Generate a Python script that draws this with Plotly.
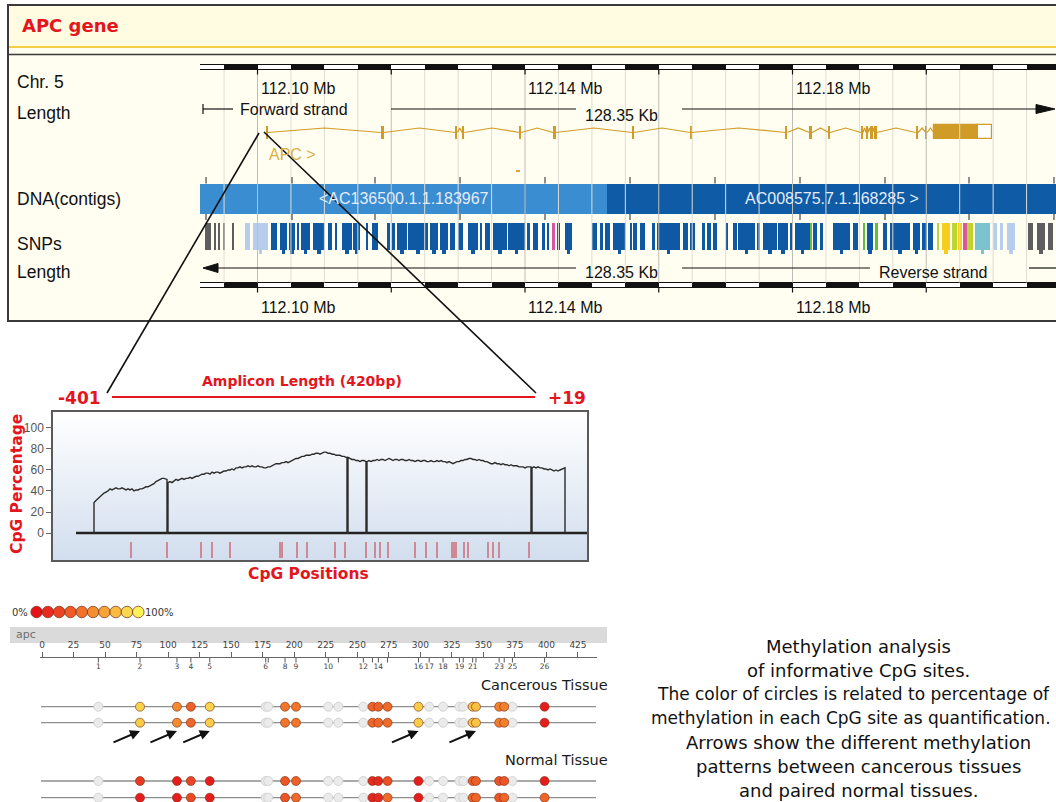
import plotly.graph_objects as go

W, H = 1056, 802


def px(x):
    return x / W


def py(y):
    return 1 - y / H


ARIAL = "Liberation Sans, Arial, sans-serif"
VERDANA = "DejaVu Sans, Verdana, sans-serif"
RED = "#E3161D"
GOLD = "#D09C27"

# ---------------- genome view of chr5 around APC (positions in kb from 112.10 Mb) ----------------
ORIGIN_MB = 112.10
view_mb = [112.0914, 112.2194]
mb_tick_values = [112.10, 112.12, 112.14, 112.16, 112.18, 112.20]
mb_label_values = [112.10, 112.14, 112.18]
view_length_label = "128.35 Kb"

exon_start_kb = [1.35, 18.45, 29.6, 30.6, 39.2, 44.2, 56.0, 64.7, 79.0, 82.5, 85.4,
                 90.25, 91.0, 91.7, 92.3, 98.4, 99.95]
exon_len_kb = [0.18, 0.40, 0.30, 0.30, 0.22, 0.40, 0.30, 0.20, 0.22, 0.45, 0.22,
               0.28, 0.28, 0.28, 0.28, 0.40, 0.20]
last_exon_coding_kb = [101.11, 107.75]
last_exon_utr_kb = [107.75, 109.80]
minor_feature_kb = [38.65, 39.25]

contig_names = ["<AC136500.1.1.183967", "AC008575.7.1.168285 >"]
contig_start_kb = [-9.0, 52.29]
contig_end_kb = [52.29, 125.0]
contig_tick_kb = [-7.7, 5.16, 17.57, 30.28, 42.99, 55.70, 68.41, 81.12, 93.83, 106.39, 119.1]

snp_start_kb = [
    -7.85, -6.36, -5.76, -5.16, -3.81,
    -1.87, -0.67,
    2.02, 3.36, 4.71, 5.91, 6.50, 8.30, 10.54, 11.59, 12.64, 14.28, 16.37, 17.12, 19.36,
    20.11, 20.86, 22.50, 25.79, 27.29, 28.78, 29.98, 31.48, 33.27, 34.02, 35.21, 37.46,
    40.30, 41.20, 42.54, 43.29,
    44.04,
    44.78, 45.98, 50.02, 51.21, 51.96, 53.16, 55.70, 56.15, 57.20, 58.99, 59.74, 63.63,
    64.67, 66.47, 67.21, 68.11, 70.20, 71.10, 71.85, 74.69, 75.58, 77.83, 79.62, 80.37,
    82.61,
    83.06, 84.11, 86.05, 89.04,
    90.54,
    91.14,
    92.34,
    93.53, 94.58, 98.02, 99.36, 100.26,
    101.61, 102.35, 103.85, 104.75, 105.49, 106.09, 107.28,
    109.98, 111.03, 112.07,
    115.21, 116.56, 118.20,
]
snp_end_kb = [
    -6.95, -6.21, -5.61, -5.01, -3.66,
    -1.12, 1.57,
    2.92, 4.41, 5.61, 6.21, 7.85, 10.09, 11.14, 11.89, 14.13, 15.33, 16.52, 18.02, 19.81,
    20.56, 22.35, 25.49, 26.99, 28.49, 29.53, 30.73, 32.97, 33.57, 34.77, 37.31, 40.00,
    40.75, 41.94, 42.99, 43.44,
    44.49,
    45.23, 47.03, 50.77, 51.66, 52.71, 55.10, 56.00, 56.75, 57.94, 59.44, 63.18, 64.37,
    65.42, 66.91, 67.81, 68.71, 70.35, 71.70, 74.39, 75.13, 77.68, 79.32, 80.07, 82.61,
    82.91,
    83.66, 84.56, 88.59, 89.79,
    90.84,
    92.04,
    92.78,
    94.13, 97.57, 99.06, 100.11, 101.01,
    101.76, 103.55, 104.60, 105.34, 106.09, 106.99, 109.53,
    110.58, 111.47, 113.27,
    115.96, 117.76, 118.95,
]
snp_kind = (["gray"] * 5 + ["lightblue"] * 2 + ["blue"] * 29 + ["pink"] + ["blue"] * 24
            + ["green"] + ["blue"] * 4 + ["green"] + ["blue"] + ["green"] + ["blue"] * 5
            + ["lime", "yellow", "lime", "yellow", "pink", "lime", "cyan"]
            + ["lightblue"] * 3 + ["gray"] * 3)
snp_palette = {
    "gray": "#5E5E5E", "lightblue": "#B6CEEC", "blue": "#0E58A4", "pink": "#D8569F",
    "green": "#62BE3E", "lime": "#BCD531", "yellow": "#F7CD1E", "cyan": "#7DC3CE",
}

# ---------------- amplicon CpG content (window position, % CpG) ----------------
curve_pos = [
    41, 41, 43, 45, 47, 49, 51, 53, 55, 57, 59, 61, 63, 65, 67, 69, 71, 73, 75, 77, 79, 81, 83,
    85, 87, 89, 91, 93, 95, 97, 99, 101, 103, 105, 107, 109, 111, 113, 114, 114,
    115, 115, 117, 119, 121, 123, 125, 127, 129, 131, 133, 135, 137, 139, 141, 143, 145, 147,
    149, 151, 153, 155, 157, 159, 161, 163, 165, 167, 169, 171, 173, 175, 177, 179, 181, 183,
    185, 187, 189, 191, 193, 195, 197, 199, 201, 203, 205, 207, 209, 211, 213, 215, 217, 219,
    221, 223, 225, 227, 229, 231, 233, 235, 237, 239, 241, 243, 245, 247, 249, 251, 253, 255,
    257, 259, 261, 263, 265, 267, 269, 271, 273, 275, 277, 279, 281, 283, 285, 287, 289, 291,
    293, 294, 294,
    295, 295, 297, 299, 301, 303, 305, 307, 309, 311, 313, 313,
    314, 314, 316, 318, 320, 322, 324, 326, 328, 330, 332, 334, 336, 338, 340, 342, 344, 346,
    348, 350, 352, 354, 356, 358, 360, 362, 364, 366, 368, 370, 372, 374, 376, 378, 380, 382,
    384, 386, 388, 390, 392, 394, 396, 398, 400, 402, 404, 406, 408, 410, 412, 414, 416, 418,
    420, 422, 424, 426, 428, 430, 432, 434, 436, 438, 440, 442, 444, 446, 448, 450, 452, 454,
    456, 458, 460, 462, 464, 466, 468, 470, 472, 474, 476, 478, 478,
    479, 479, 481, 483, 485, 487, 489, 491, 493, 495, 497, 499, 501, 503, 505, 507, 509, 511,
    512, 512,
]
curve_pct = [
    0, 29, 31, 33, 35, 36, 38, 39, 40, 42, 41, 42, 43, 42, 42, 43, 42, 41, 42, 41, 42, 40, 41,
    41, 42, 42, 43, 44, 44, 45, 46, 47, 49, 50, 51, 52, 52, 51, 51, 0,
    0, 48, 49, 48, 50, 51, 50, 51, 52, 51, 52, 52, 53, 52, 53, 54, 54, 55,
    56, 56, 57, 57, 56, 58, 57, 58, 58, 57, 58, 59, 59, 60, 60, 61, 60, 62,
    62, 63, 62, 63, 63, 64, 63, 64, 63, 63, 64, 63, 63, 62, 62, 63, 63, 64,
    65, 66, 66, 66, 67, 67, 68, 67, 68, 69, 70, 71, 71, 72, 73, 73, 74, 74,
    74, 75, 75, 76, 76, 75, 76, 77, 77, 76, 76, 75, 75, 74, 74, 74, 73, 73,
    72, 72, 0,
    0, 72, 71, 70, 70, 69, 69, 68, 69, 69, 68, 0,
    0, 68, 69, 68, 69, 69, 70, 69, 70, 70, 69, 70, 71, 70, 69, 70, 70, 69,
    70, 70, 69, 69, 70, 69, 69, 68, 69, 69, 68, 69, 69, 68, 68, 69, 68, 68,
    69, 68, 69, 68, 68, 67, 68, 67, 66, 67, 68, 68, 69, 69, 70, 70, 71, 71,
    70, 70, 69, 70, 69, 69, 68, 68, 67, 66, 66, 67, 66, 66, 65, 66, 65, 65,
    64, 65, 64, 64, 64, 63, 63, 63, 62, 63, 63, 63, 0,
    0, 62, 63, 62, 63, 62, 62, 61, 61, 60, 61, 60, 59, 60, 59, 60, 61, 62,
    62, 0,
]
cpg_position = [78, 114, 148, 159, 177, 227, 229, 244, 254, 282, 292, 313, 322, 327, 335,
                362, 373, 384, 399, 401, 403, 411, 415, 435, 440, 446, 476]
pct_ticks = [0, 20, 40, 60, 80, 100]

# ---------------- methylation of informative CpG sites (EpiTyper style) ----------------
site_pos = [44.7, 77.7, 107, 118, 133, 177.4, 179.4, 192.7, 201.4, 227, 235, 254.8, 262,
            266.7, 274, 298.5, 307, 318, 331, 334, 341.5, 344.1, 362.5, 366.5, 373, 398.5]
site_number_shown = [1, 2, 3, 4, 5, 6, 8, 9, 10, 12, 14, 16, 17, 18, 19, 21, 23, 25, 26]
ruler_ticks = list(range(0, 426, 25))
N = None
cancer_a = [N, 88, 55, 35, 88, N, N, 45, 45, N, N, N, 35, 35, 40, 85, N, N, N, N, 80, 80, 50, 50, N, 5]
cancer_b = [N, 85, 55, 38, 85, N, N, 45, 45, N, N, N, 38, 38, 40, 85, N, N, N, N, 80, 82, 48, 50, N, 5]
normal_a = [N, 18, 5, 22, 5, N, N, 30, 35, N, N, N, 10, 10, 28, 5, N, N, N, N, 35, 35, 30, 30, N, 5]
normal_b = [N, 5, 5, 25, 5, N, N, 30, 40, N, N, N, 8, 10, 40, 5, N, N, N, N, 38, 38, 30, 38, N, 38]
sample_rows = [cancer_a, cancer_b, normal_a, normal_b]
arrow_sites = [2, 3, 5, 16, 22]
legend_levels = [0, 11, 22, 33, 44, 56, 67, 78, 89, 100]
meth_scale = [[0, "#E3121B"], [0.25, "#EC4A24"], [0.5, "#F3802D"], [0.75, "#F8B43C"], [1, "#FDF25A"]]

caption_lines = [
    "Methylation analysis",
    "of informative CpG sites.",
    "The color of circles is related to percentage of",
    "methylation in each CpG site as quantification.",
    "Arrows show the different methylation",
    "patterns between cancerous tissues",
    "and paired normal tissues.",
]

# pixel rows of the genome tracks and the methylation rows
ROW = dict(ruler_top=(64.5, 70.0), ruler_bottom=(282.5, 288.0), grid=(70.0, 282.5),
           exon=(126.0, 139.0), box=(125.0, 139.0), intron=(132.5, 128.0),
           contig=(183.5, 214.0), contig_ticks=((177.0, 183.5), (214.0, 220.0)),
           snp=(223.0, 250.0), snp_foot=(249.0, 253.5), minor=(170.0, 171.6))
sample_row_y = [706.7, 722.7, 781.0, 797.7]


def mb(kb):
    return ORIGIN_MB + kb / 1000.0


fig = go.Figure()
G = dict(xaxis="x", yaxis="y", hoverinfo="skip", showlegend=False)

# grid lines of the genome view every 5 kb, darker every 20 kb
light_x, dark_x = [], []
for k in range(26):
    v = round(112.095 + 0.005 * k, 3)
    target = dark_x if abs((v - 112.10) / 0.02 - round((v - 112.10) / 0.02)) < 1e-6 else light_x
    target += [v, v, None]
for xs, col in ((light_x, "#DDDDD3"), (dark_x, "#BEBEB6")):
    ys = []
    for v in xs:
        ys.append(None if v is None else (ROW["grid"][0] if len(ys) % 3 == 0 else ROW["grid"][1]))
    fig.add_trace(go.Scatter(x=xs, y=ys, mode="lines", line=dict(color=col, width=1), **G))

# contigs
contig_cols = ["#3B8DD2", "#0F5BA6"]
for s, e, c in zip(contig_start_kb, contig_end_kb, contig_cols):
    fig.add_trace(go.Bar(x=[mb((s + e) / 2)], width=[(e - s) / 1000], base=[ROW["contig"][0]],
                         y=[ROW["contig"][1] - ROW["contig"][0]], marker=dict(color=c, line_width=0), **G))
tx, ty = [], []
for t in contig_tick_kb:
    for (a, b) in ROW["contig_ticks"]:
        tx += [mb(t), mb(t), None]
        ty += [a, b, None]
fig.add_trace(go.Scatter(x=tx, y=ty, mode="lines", line=dict(color="#222", width=1), **G))

# SNP glyphs
for kind, col in snp_palette.items():
    idx = [i for i, k in enumerate(snp_kind) if k == kind]
    if not idx:
        continue
    cx = [mb((snp_start_kb[i] + snp_end_kb[i]) / 2) for i in idx]
    wd = [(snp_end_kb[i] - snp_start_kb[i]) / 1000 for i in idx]
    fig.add_trace(go.Bar(x=cx, width=wd, base=[ROW["snp"][0]] * len(idx),
                         y=[ROW["snp"][1] - ROW["snp"][0]] * len(idx),
                         marker=dict(color=col, line_width=0), **G))
    feet = [i for i in idx if snp_end_kb[i] - snp_start_kb[i] >= 0.9]
    if feet:
        fig.add_trace(go.Bar(x=[mb((snp_start_kb[i] + snp_end_kb[i]) / 2) for i in feet],
                             width=[0.00055] * len(feet), base=[ROW["snp_foot"][0]] * len(feet),
                             y=[ROW["snp_foot"][1] - ROW["snp_foot"][0]] * len(feet),
                             marker=dict(color=col, line_width=0), **G))

# APC transcript: introns as hats, exons as boxes
ends = [s + l for s, l in zip(exon_start_kb, exon_len_kb)]
nexts = exon_start_kb[1:] + [last_exon_coding_kb[0]]
ix, iy = [], []
for a, b in zip(ends, nexts):
    ix += [mb(a), mb((a + b) / 2), mb(b), None]
    iy += [ROW["intron"][0], ROW["intron"][1], ROW["intron"][0], None]
fig.add_trace(go.Scatter(x=ix, y=iy, mode="lines", line=dict(color=GOLD, width=1.2), **G))
fig.add_trace(go.Bar(x=[mb(s + l / 2) for s, l in zip(exon_start_kb, exon_len_kb)],
                     width=[max(l, 0.2) / 1000 for l in exon_len_kb],
                     base=[ROW["exon"][0]] * len(exon_start_kb),
                     y=[ROW["exon"][1] - ROW["exon"][0]] * len(exon_start_kb),
                     marker=dict(color=GOLD, line_width=0), **G))
for (s, e), fill in ((last_exon_coding_kb, GOLD), (last_exon_utr_kb, "#FFFFFF")):
    fig.add_trace(go.Bar(x=[mb((s + e) / 2)], width=[(e - s) / 1000], base=[ROW["box"][0]],
                         y=[ROW["box"][1] - ROW["box"][0]],
                         marker=dict(color=fill, line=dict(color=GOLD, width=1.2)), **G))
fig.add_trace(go.Bar(x=[mb(sum(minor_feature_kb) / 2)], width=[(minor_feature_kb[1] - minor_feature_kb[0]) / 1000],
                     base=[ROW["minor"][0]], y=[ROW["minor"][1] - ROW["minor"][0]],
                     marker=dict(color="#E0A040", line_width=0), **G))

# scale bars (alternating 5 kb blocks) with 20 kb ticks
black_centres = [112.0975 + 0.01 * k for k in range(13)]
for (top, bot) in (ROW["ruler_top"], ROW["ruler_bottom"]):
    fig.add_trace(go.Bar(x=[sum(view_mb) / 2], width=[view_mb[1] - view_mb[0] + 0.002], base=[top],
                         y=[bot - top], marker=dict(color="#FFFFFF", line=dict(color="#111", width=1)), **G))
    fig.add_trace(go.Bar(x=black_centres, width=[0.005] * len(black_centres), base=[top] * len(black_centres),
                         y=[bot - top] * len(black_centres), marker=dict(color="#111", line_width=0), **G))
    kx, ky = [], []
    for v in mb_tick_values + [112.22]:
        kx += [v, v, None]
        ky += [bot, bot + 4.5, None]
    fig.add_trace(go.Scatter(x=kx, y=ky, mode="lines", line=dict(color="#111", width=1.2), **G))

# ---------------- CpG content chart ----------------
C = dict(xaxis="x2", yaxis="y2", hoverinfo="skip", showlegend=False)
fig.add_trace(go.Scatter(x=[0, 534, 534, 0, 0], y=[-25.7, -25.7, 115.2, 115.2, -25.7], mode="none",
                         fill="toself",
                         fillgradient=dict(type="vertical", colorscale=[[0, "#D2DEEE"], [1, "#FFFFFF"]]), **C))
fig.add_trace(go.Scatter(x=[23, 534], y=[0, 0], mode="lines", line=dict(color="#222", width=2.6), **C))
fig.add_trace(go.Scatter(x=curve_pos, y=curve_pct, mode="lines", line=dict(color="#2B2B2B", width=1.4), **C))
rx, ry = [], []
for p in cpg_position:
    rx += [p, p, None]
    ry += [-8.6, -23.8, None]
fig.add_trace(go.Scatter(x=rx, y=ry, mode="lines", line=dict(color="#C8323A", width=1), **C))

# ---------------- methylation panel ----------------
M = dict(xaxis="x3", yaxis="y", hoverinfo="skip", showlegend=False)
sx, sy = [], []
for p in site_pos:
    sx += [p, p, None]
    sy += [657.5, 662.5, None]
fig.add_trace(go.Scatter(x=sx, y=sy, mode="lines", line=dict(color="#555", width=1), **M))
fig.add_trace(go.Scatter(x=[site_pos[n - 1] for n in site_number_shown], y=[667.5] * len(site_number_shown),
                         mode="text", text=[str(n) for n in site_number_shown],
                         textfont=dict(size=7.5, color="#444", family=VERDANA), **M))
for row, yrow in zip(sample_rows, sample_row_y):
    gx = [p for p, v in zip(site_pos, row) if v is None]
    cx = [p for p, v in zip(site_pos, row) if v is not None]
    cv = [v for v in row if v is not None]
    fig.add_trace(go.Scatter(x=gx, y=[yrow] * len(gx), mode="markers",
                             marker=dict(size=9, color="#EBEBEB", line=dict(color="#D4D4D4", width=1)), **M))
    fig.add_trace(go.Scatter(x=cx, y=[yrow] * len(cx), mode="markers",
                             marker=dict(size=9, color=cv, colorscale=meth_scale, cmin=0, cmax=100,
                                         line=dict(color="rgba(120,45,20,0.75)", width=0.8)), **M))
fig.add_trace(go.Scatter(x=[36.6 + 11.3 * i for i in range(len(legend_levels))], y=[612] * len(legend_levels),
                         mode="markers", xaxis="x4", yaxis="y", hoverinfo="skip", showlegend=False,
                         marker=dict(size=11.5, color=legend_levels, colorscale=meth_scale, cmin=0, cmax=100,
                                     line=dict(color="rgba(120,45,20,0.8)", width=0.9))))

# ---------------- decorations ----------------
shapes = []


def rect(x0, y0, x1, y1, fill, line=None, lw=0, layer="below"):
    shapes.append(dict(type="rect", xref="paper", yref="paper", x0=px(x0), x1=px(x1), y0=py(y1), y1=py(y0),
                       fillcolor=fill, line=dict(color=line or fill, width=lw), layer=layer))


def seg(x0, y0, x1, y1, color, width, layer="above"):
    shapes.append(dict(type="line", xref="paper", yref="paper", x0=px(x0), x1=px(x1),
                       y0=py(y0), y1=py(y1), line=dict(color=color, width=width), layer=layer))


def tri(points, color):
    path = "M " + " L ".join(f"{px(a)},{py(b)}" for a, b in points) + " Z"
    shapes.append(dict(type="path", xref="paper", yref="paper", path=path, fillcolor=color,
                       line=dict(color=color, width=1), layer="above"))


rect(8, 5, 1080, 321, "#FFFEF1", "#3A3A3A", 2)
rect(9, 6, 1080, 47, "#FFFCE2")
seg(9, 47, 1080, 47, "#F2CE45", 2.2, layer="below")
seg(9, 54.5, 1080, 54.5, "#3A3A3A", 1.6, layer="below")

# strand / length lines
seg(203, 104, 203, 114, "#111", 1.2)
seg(203, 109, 233, 109, "#111", 1.2)
seg(391, 109, 576, 109, "#111", 1.2)
seg(682, 109, 1038, 109, "#111", 1.2)
tri([(1036, 104.5), (1055, 109), (1036, 113.5)], "#111")
tri([(203, 268), (218, 263.5), (218, 272.5)], "#111")
seg(216, 268, 576, 268, "#111", 1.2)
seg(682, 268, 870, 268, "#111", 1.2)
seg(1029, 268, 1060, 268, "#111", 1.2)

# zoom from the APC promoter to the amplicon
seg(259, 133, 107, 393, "#111", 1.6)
seg(264, 132, 536, 393, "#111", 1.6)
seg(112, 397, 535, 397, RED, 2.2)

# methylation panel band and sample lines
rect(10, 627, 607, 643, "#DADADA")
for yrow in sample_row_y:
    shapes.append(dict(type="line", xref="x3", yref="paper", x0=-0.8, x1=439.3, y0=py(yrow), y1=py(yrow),
                       line=dict(color="#8E8E8E", width=1.3), layer="below"))

annotations = []


def label(text, x, y, size, color="#111111", family=ARIAL, anchor="left", bold=False, xref="paper",
          angle=0, xshift=0):
    annotations.append(dict(text=f"<b>{text}</b>" if bold else text,
                            x=px(x) if xref == "paper" else x, xref=xref, y=py(y), yref="paper",
                            xanchor=anchor, yanchor="middle", showarrow=False, textangle=angle,
                            xshift=xshift, font=dict(size=size, color=color, family=family)))


label("APC gene", 20, 26, 18, RED, VERDANA, bold=True)
label("Chr. 5", 15, 82, 17.5)
label("Length", 15, 113, 17.5)
label("DNA(contigs)", 15, 199, 17.5)
label("SNPs", 15, 244, 17.5)
label("Length", 15, 272, 17.5)
for v in mb_label_values:
    label(f"{v:.2f} Mb", v, 88, 16, xref="x", xshift=1)
    label(f"{v:.2f} Mb", v, 307, 16, xref="x", xshift=1)
label("Forward strand", 294, 109, 16, anchor="center")
label(view_length_label, 621, 115, 16, anchor="center")
label(view_length_label, 621, 273, 16, anchor="center")
label("Reverse strand", 933, 273, 16, anchor="center")
label("APC >", mb(exon_start_kb[0]), 154, 16, "#D9AE45", xref="x")
for name, s, e in zip(contig_names, contig_start_kb, contig_end_kb):
    centre = (max(s, -8.6) + min(e, 119.5)) / 2
    label(name, mb(centre), 198.5, 16, "#E4ECF8", anchor="center", xref="x")

label("Amplicon Length (420bp)", 302, 381, 14, RED, VERDANA, anchor="center", bold=True)
label("-401", 79, 398, 17, RED, VERDANA, anchor="center", bold=True)
label("+19", 567, 398, 17, RED, VERDANA, anchor="center", bold=True)
label("CpG Percentage", 17, 484, 15.5, RED, VERDANA, anchor="center", bold=True, angle=-90)
label("CpG Positions", 308, 574, 15.5, RED, VERDANA, anchor="center", bold=True)

label("0%", 10, 612, 10, "#333", VERDANA)
label("100%", 143, 612, 10, "#333", VERDANA)
label("apc", 14, 634.5, 11, "#6E6E6E", VERDANA)
label("Cancerous Tissue", 610, 685, 14.5, "#1A1A1A", VERDANA, anchor="right")
label("Normal Tissue", 610, 760, 14.5, "#1A1A1A", VERDANA, anchor="right")
caption_size = [18, 18, 17, 17, 18, 18, 18]
caption_centre = [858, 858, 853, 851, 858, 858, 858]
for i, line in enumerate(caption_lines):
    label(line, caption_centre[i], 646 + 24 * i, caption_size[i], "#111", VERDANA, anchor="center")

for n in arrow_sites:
    annotations.append(dict(x=site_pos[n - 1], xref="x3", y=py(731), yref="paper", text="", showarrow=True,
                            ax=-28, ay=12, arrowhead=2, arrowsize=1, arrowwidth=2, arrowcolor="#111",
                            standoff=0))

fig.update_layout(
    width=W, height=H, margin=dict(l=0, r=0, t=0, b=0), autosize=False,
    paper_bgcolor="#FFFFFF", plot_bgcolor="rgba(0,0,0,0)", barmode="overlay", bargap=0,
    showlegend=False, shapes=shapes, annotations=annotations,
    xaxis=dict(domain=[px(200), 1], range=view_mb, visible=False, anchor="y", fixedrange=True),
    yaxis=dict(domain=[0, 1], range=[H, 0], visible=False, anchor="x", fixedrange=True),
    xaxis2=dict(domain=[px(53), px(587)], range=[0, 534], anchor="y2", showline=True, mirror=True,
                linecolor="#5A5A5A", linewidth=1.5, showticklabels=False, ticks="", showgrid=False,
                zeroline=False),
    yaxis2=dict(domain=[py(560), py(412)], range=[-25.7, 115.2], anchor="x2", tickvals=pct_ticks,
                ticks="outside", ticklen=5, tickcolor="#666", tickfont=dict(size=12, color="#555", family=ARIAL),
                showline=True, mirror=True, linecolor="#5A5A5A", linewidth=1.5, showgrid=False,
                zeroline=False),
    xaxis3=dict(domain=[px(40), px(597)], range=[-1.59, 440.07], anchor="free", position=py(657),
                side="top", showline=True, linecolor="#666", linewidth=1, ticks="outside", ticklen=5,
                tickcolor="#666", tickvals=ruler_ticks, tickfont=dict(size=9, color="#444", family=VERDANA),
                showgrid=False, zeroline=False),
    xaxis4=dict(domain=[0, 1], range=[0, W], visible=False, anchor="y"),
)

fig.write_html("out.html")
